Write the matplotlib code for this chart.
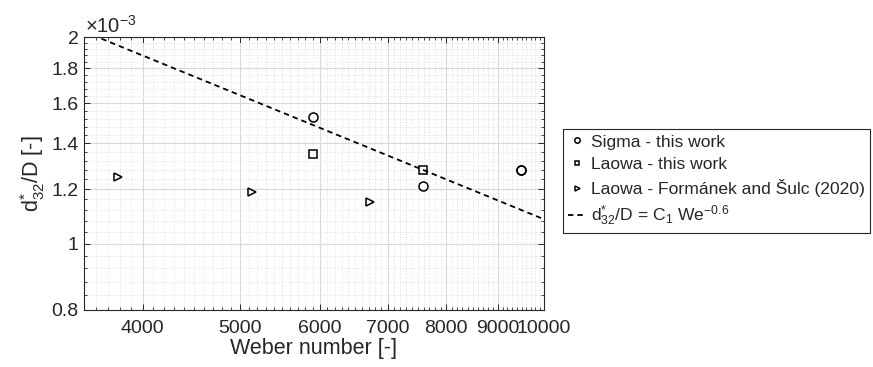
import matplotlib
matplotlib.use('Agg')
import matplotlib.pyplot as plt
import numpy as np
from matplotlib.ticker import FixedLocator, MultipleLocator, FuncFormatter, NullFormatter

plt.rcParams['font.family'] = ['Liberation Sans', 'DejaVu Sans']
plt.rcParams['mathtext.fontset'] = 'custom'
plt.rcParams['mathtext.rm'] = 'Liberation Sans'
plt.rcParams['mathtext.it'] = 'Liberation Sans'
plt.rcParams['mathtext.bf'] = 'Liberation Sans:bold'

# data
we_sigma = [5900, 7590, 9480, 9480]
d_sigma = [1.529e-3, 1.214e-3, 1.281e-3, 1.281e-3]

we_laowa = [5900, 7590]
d_laowa = [1.350e-3, 1.281e-3]

we_form = [3780, 5140, 6720]
d_form = [1.250e-3, 1.187e-3, 1.151e-3]

# fit d32/D = C1 We^-0.6
C1 = 0.2725
expo = -0.6
we_fit = np.array([3500, 10000])
d_fit = C1 * we_fit ** expo

xticks = [4000, 5000, 6000, 7000, 8000, 9000, 10000]
yticks = [0.8e-3, 1.0e-3, 1.2e-3, 1.4e-3, 1.6e-3, 1.8e-3, 2.0e-3]

dark = '#262626'


def ylab(v, p):
    return '%g' % round(v * 1e3, 2)


fig = plt.figure(figsize=(8.73, 3.67), dpi=100)
ax = fig.add_axes([84/873, 1-310/367, (544-84)/873, (310-37)/367])
ax.set_xscale('log')
ax.set_yscale('log')

ax.plot(we_sigma, d_sigma, 'o', mfc='none', mec='k', ms=6.5, mew=1.1,
        label='Sigma - this work')
ax.plot(we_laowa, d_laowa, 's', mfc='none', mec='k', ms=5.5, mew=1.1,
        label='Laowa - this work')
ax.plot(we_form, d_form, '>', mfc='none', mec='k', ms=6, mew=1.1,
        label='Laowa - Formánek and Šulc (2020)')
ax.plot(we_fit, d_fit, color='k', lw=1.3, ls=(0, (3, 2.2)),
        label=r'$\mathregular{d^{*}_{32}}$/D = C$_\mathregular{1}$ We$^\mathregular{-0.6}$')

ax.set_xlim(3500, 10000)
ax.set_ylim(0.8e-3, 2.0e-3)

ax.xaxis.set_major_locator(FixedLocator(xticks))
ax.xaxis.set_major_formatter(FuncFormatter(lambda v, p: '%d' % round(v)))
ax.xaxis.set_minor_locator(MultipleLocator(100))
ax.xaxis.set_minor_formatter(NullFormatter())
ax.yaxis.set_major_locator(FixedLocator(yticks))
ax.yaxis.set_major_formatter(FuncFormatter(ylab))
ax.yaxis.set_minor_locator(MultipleLocator(0.04e-3))
ax.yaxis.set_minor_formatter(NullFormatter())

ax.grid(True, which='major', color='#d9d9d9', lw=0.8, ls='-')
ax.grid(True, which='minor', color='#e0e0e0', lw=0.7, ls=(0, (1, 1.5)))
ax.set_axisbelow(True)

for s in ax.spines.values():
    s.set_color(dark)
    s.set_linewidth(0.8)
ax.tick_params(which='both', direction='in', top=True, right=True, colors=dark,
               labelcolor=dark, labelsize=14)
ax.tick_params(axis='x', which='major', pad=7)
ax.tick_params(axis='y', which='major', pad=4)
ax.tick_params(which='major', length=4, width=0.7)
ax.tick_params(which='minor', length=2.5, width=0.6)

ax.set_xlabel('Weber number [-]', fontsize=15.5, color=dark, labelpad=1)
ax.set_ylabel(r'$\mathregular{d^{*}_{32}}$/D [-]', fontsize=15.5, color=dark, labelpad=3)
ax.text(0.003, 1.0, r'$\mathregular{\times10^{-3}}$', transform=ax.transAxes,
        fontsize=14.5, color=dark, ha='left', va='bottom')

leg = ax.legend(loc='upper left', bbox_to_anchor=(563/873, 1-129/367),
                bbox_transform=fig.transFigure, borderaxespad=0, fancybox=False,
                edgecolor=dark, fontsize=12.6, markerscale=0.6, handlelength=1.0,
                handletextpad=0.3, borderpad=0.3, labelspacing=0.4, framealpha=1)
leg.get_frame().set_linewidth(0.8)
for t in leg.get_texts():
    t.set_color(dark)

fig.savefig('out.png', dpi=100)
